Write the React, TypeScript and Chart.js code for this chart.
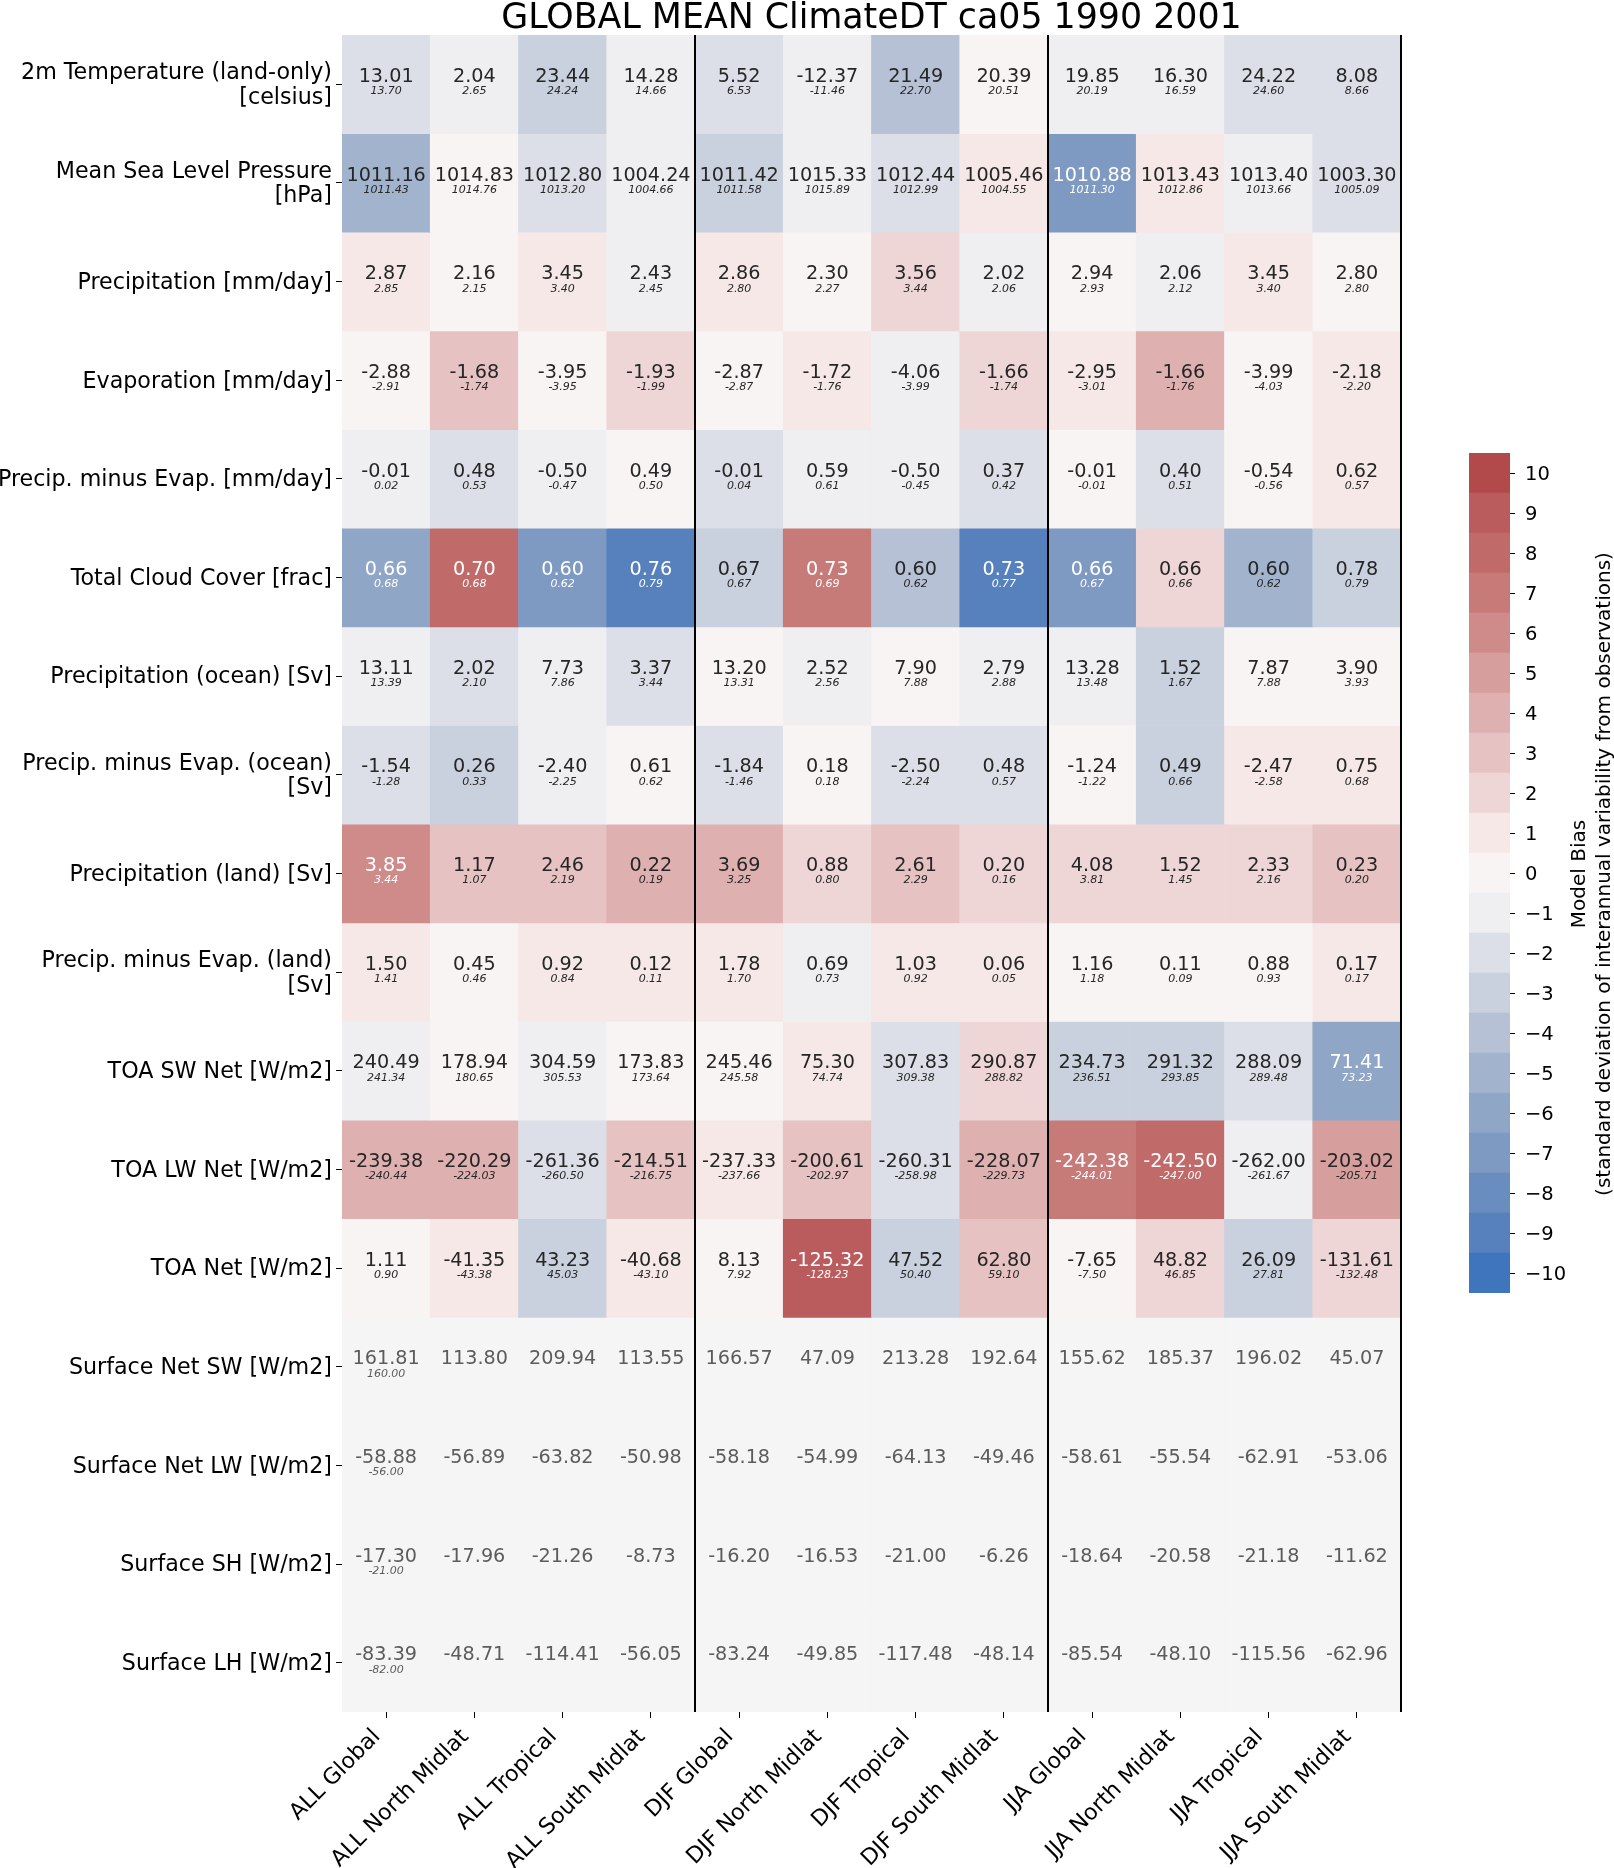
import React, { useEffect, useRef } from 'react';
import { Chart, registerables } from 'chart.js';

Chart.register(...registerables);

const FONT = "'DejaVu Sans', sans-serif";

// ---------- texts ----------
const chartTitle = 'GLOBAL MEAN ClimateDT ca05 1990 2001';
const cbarTitle = 'Model Bias';
const cbarSubtitle = '(standard deviation of interannual variability from observations)';

const colLabels = [
  'ALL Global', 'ALL North Midlat', 'ALL Tropical', 'ALL South Midlat',
  'DJF Global', 'DJF North Midlat', 'DJF Tropical', 'DJF South Midlat',
  'JJA Global', 'JJA North Midlat', 'JJA Tropical', 'JJA South Midlat',
];

const rowLabels: (string | string[])[] = [
  ['2m Temperature (land-only)', '[celsius]'],
  ['Mean Sea Level Pressure', '[hPa]'],
  'Precipitation [mm/day]',
  'Evaporation [mm/day]',
  'Precip. minus Evap. [mm/day]',
  'Total Cloud Cover [frac]',
  'Precipitation (ocean) [Sv]',
  ['Precip. minus Evap. (ocean)', '[Sv]'],
  'Precipitation (land) [Sv]',
  ['Precip. minus Evap. (land)', '[Sv]'],
  'TOA SW Net [W/m2]',
  'TOA LW Net [W/m2]',
  'TOA Net [W/m2]',
  'Surface Net SW [W/m2]',
  'Surface Net LW [W/m2]',
  'Surface SH [W/m2]',
  'Surface LH [W/m2]',
];

// ---------- values (model / observation / bias in std units) ----------
const t2mModel = [13.01, 2.04, 23.44, 14.28, 5.52, -12.37, 21.49, 20.39, 19.85, 16.30, 24.22, 8.08];
const t2mObs = [13.70, 2.65, 24.24, 14.66, 6.53, -11.46, 22.70, 20.51, 20.19, 16.59, 24.60, 8.66];
const t2mBias = [-2, -1, -3, -1, -2, -1, -4, 0, -1, -1, -2, -2];

const mslpModel = [1011.16, 1014.83, 1012.80, 1004.24, 1011.42, 1015.33, 1012.44, 1005.46, 1010.88, 1013.43, 1013.40, 1003.30];
const mslpObs = [1011.43, 1014.76, 1013.20, 1004.66, 1011.58, 1015.89, 1012.99, 1004.55, 1011.30, 1012.86, 1013.66, 1005.09];
const mslpBias = [-5, 0, -2, -1, -3, -1, -2, 1, -7, 1, -1, -2];

const precipModel = [2.87, 2.16, 3.45, 2.43, 2.86, 2.30, 3.56, 2.02, 2.94, 2.06, 3.45, 2.80];
const precipObs = [2.85, 2.15, 3.40, 2.45, 2.80, 2.27, 3.44, 2.06, 2.93, 2.12, 3.40, 2.80];
const precipBias = [1, 0, 1, -1, 1, 0, 2, -1, 0, -1, 1, 0];

const evapModel = [-2.88, -1.68, -3.95, -1.93, -2.87, -1.72, -4.06, -1.66, -2.95, -1.66, -3.99, -2.18];
const evapObs = [-2.91, -1.74, -3.95, -1.99, -2.87, -1.76, -3.99, -1.74, -3.01, -1.76, -4.03, -2.20];
const evapBias = [0, 3, 0, 2, 0, 1, -1, 2, 1, 4, 0, 1];

const pmeModel = [-0.01, 0.48, -0.50, 0.49, -0.01, 0.59, -0.50, 0.37, -0.01, 0.40, -0.54, 0.62];
const pmeObs = [0.02, 0.53, -0.47, 0.50, 0.04, 0.61, -0.45, 0.42, -0.01, 0.51, -0.56, 0.57];
const pmeBias = [-1, -2, -1, 0, -2, -1, -1, -2, 0, -2, 0, 1];

const tccModel = [0.66, 0.70, 0.60, 0.76, 0.67, 0.73, 0.60, 0.73, 0.66, 0.66, 0.60, 0.78];
const tccObs = [0.68, 0.68, 0.62, 0.79, 0.67, 0.69, 0.62, 0.77, 0.67, 0.66, 0.62, 0.79];
const tccBias = [-6, 8, -7, -9, -3, 7, -4, -9, -7, 2, -5, -3];

const precipOceanModel = [13.11, 2.02, 7.73, 3.37, 13.20, 2.52, 7.90, 2.79, 13.28, 1.52, 7.87, 3.90];
const precipOceanObs = [13.39, 2.10, 7.86, 3.44, 13.31, 2.56, 7.88, 2.88, 13.48, 1.67, 7.88, 3.93];
const precipOceanBias = [-1, -2, -1, -2, 0, -1, 0, -1, -1, -3, 0, 0];

const pmeOceanModel = [-1.54, 0.26, -2.40, 0.61, -1.84, 0.18, -2.50, 0.48, -1.24, 0.49, -2.47, 0.75];
const pmeOceanObs = [-1.28, 0.33, -2.25, 0.62, -1.46, 0.18, -2.24, 0.57, -1.22, 0.66, -2.58, 0.68];
const pmeOceanBias = [-2, -3, -1, 0, -2, 0, -2, -2, 0, -3, 1, 1];

const precipLandModel = [3.85, 1.17, 2.46, 0.22, 3.69, 0.88, 2.61, 0.20, 4.08, 1.52, 2.33, 0.23];
const precipLandObs = [3.44, 1.07, 2.19, 0.19, 3.25, 0.80, 2.29, 0.16, 3.81, 1.45, 2.16, 0.20];
const precipLandBias = [6, 3, 3, 4, 4, 2, 3, 2, 2, 2, 2, 3];

const pmeLandModel = [1.50, 0.45, 0.92, 0.12, 1.78, 0.69, 1.03, 0.06, 1.16, 0.11, 0.88, 0.17];
const pmeLandObs = [1.41, 0.46, 0.84, 0.11, 1.70, 0.73, 0.92, 0.05, 1.18, 0.09, 0.93, 0.17];
const pmeLandBias = [1, 0, 1, 1, 1, -1, 1, 1, 0, 0, 0, 1];

const toaSwModel = [240.49, 178.94, 304.59, 173.83, 245.46, 75.30, 307.83, 290.87, 234.73, 291.32, 288.09, 71.41];
const toaSwObs = [241.34, 180.65, 305.53, 173.64, 245.58, 74.74, 309.38, 288.82, 236.51, 293.85, 289.48, 73.23];
const toaSwBias = [-1, 0, -1, 0, 0, 1, -2, 2, -3, -3, -2, -6];

const toaLwModel = [-239.38, -220.29, -261.36, -214.51, -237.33, -200.61, -260.31, -228.07, -242.38, -242.50, -262.00, -203.02];
const toaLwObs = [-240.44, -224.03, -260.50, -216.75, -237.66, -202.97, -258.98, -229.73, -244.01, -247.00, -261.67, -205.71];
const toaLwBias = [4, 4, -2, 3, 1, 3, -2, 4, 7, 8, -1, 5];

const toaNetModel = [1.11, -41.35, 43.23, -40.68, 8.13, -125.32, 47.52, 62.80, -7.65, 48.82, 26.09, -131.61];
const toaNetObs = [0.90, -43.38, 45.03, -43.10, 7.92, -128.23, 50.40, 59.10, -7.50, 46.85, 27.81, -132.48];
const toaNetBias = [0, 1, -3, 1, 0, 9, -3, 3, 0, 2, -3, 2];

const sfcSwModel = [161.81, 113.80, 209.94, 113.55, 166.57, 47.09, 213.28, 192.64, 155.62, 185.37, 196.02, 45.07];
const sfcSwObs = [160.00, null, null, null, null, null, null, null, null, null, null, null];
const sfcSwBias = [null, null, null, null, null, null, null, null, null, null, null, null];

const sfcLwModel = [-58.88, -56.89, -63.82, -50.98, -58.18, -54.99, -64.13, -49.46, -58.61, -55.54, -62.91, -53.06];
const sfcLwObs = [-56.00, null, null, null, null, null, null, null, null, null, null, null];
const sfcLwBias = [null, null, null, null, null, null, null, null, null, null, null, null];

const sfcShModel = [-17.30, -17.96, -21.26, -8.73, -16.20, -16.53, -21.00, -6.26, -18.64, -20.58, -21.18, -11.62];
const sfcShObs = [-21.00, null, null, null, null, null, null, null, null, null, null, null];
const sfcShBias = [null, null, null, null, null, null, null, null, null, null, null, null];

const sfcLhModel = [-83.39, -48.71, -114.41, -56.05, -83.24, -49.85, -117.48, -48.14, -85.54, -48.10, -115.56, -62.96];
const sfcLhObs = [-82.00, null, null, null, null, null, null, null, null, null, null, null];
const sfcLhBias = [null, null, null, null, null, null, null, null, null, null, null, null];

const modelRows = [t2mModel, mslpModel, precipModel, evapModel, pmeModel, tccModel, precipOceanModel, pmeOceanModel,
  precipLandModel, pmeLandModel, toaSwModel, toaLwModel, toaNetModel, sfcSwModel, sfcLwModel, sfcShModel, sfcLhModel];
const obsRows: (number | null)[][] = [t2mObs, mslpObs, precipObs, evapObs, pmeObs, tccObs, precipOceanObs, pmeOceanObs,
  precipLandObs, pmeLandObs, toaSwObs, toaLwObs, toaNetObs, sfcSwObs, sfcLwObs, sfcShObs, sfcLhObs];
const biasRows: (number | null)[][] = [t2mBias, mslpBias, precipBias, evapBias, pmeBias, tccBias, precipOceanBias, pmeOceanBias,
  precipLandBias, pmeLandBias, toaSwBias, toaLwBias, toaNetBias, sfcSwBias, sfcLwBias, sfcShBias, sfcLhBias];

// ---------- colour bar ----------
const cbarTicks = [-10, -9, -8, -7, -6, -5, -4, -3, -2, -1, 0, 1, 2, 3, 4, 5, 6, 7, 8, 9, 10];
const biasColors = [
  '#3e75bd', '#5781bd', '#6a8dbf', '#7e99c2', '#8fa6c7', '#a2b4cd', '#b6c1d5', '#c9d0de', '#dcdfe7', '#efeff2',
  '#f9f4f4',
  '#f6e8e7', '#efd6d6', '#e6c3c2', '#deb0b0', '#d69e9c', '#ce8b8a', '#c77b79', '#c16a6a', '#ba5c5d', '#b24a4b',
];
const NAN_COLOR = '#f5f5f5';
const DARK_TEXT = '#262626';
const NAN_TEXT = '#5c5c5c';

function colorFor(b: number | null) {
  if (b === null) return NAN_COLOR;
  return biasColors[b + 10];
}

const cellTextPlugin = {
  id: 'cellText',
  afterDatasetsDraw(chart: any) {
    const { ctx, chartArea } = chart;
    const xs = chart.scales.x;
    const ys = chart.scales.y;
    ctx.save();
    ctx.textAlign = 'center';
    ctx.textBaseline = 'alphabetic';
    for (let r = 0; r < modelRows.length; r++) {
      for (let c = 0; c < colLabels.length; c++) {
        const cx = xs.getPixelForValue(c);
        const cy = ys.getPixelForValue(r + 0.5);
        const b = biasRows[r][c];
        const col = b === null ? NAN_TEXT : Math.abs(b) >= 6 ? '#ffffff' : DARK_TEXT;
        ctx.fillStyle = col;
        ctx.font = `19.2px ${FONT}`;
        ctx.fillText(modelRows[r][c].toFixed(2), cx, cy - 2.4);
        const o = obsRows[r][c];
        if (o !== null && o !== undefined) {
          ctx.font = `italic 11px ${FONT}`;
          ctx.fillText(o.toFixed(2), cx, cy + 9.9);
        }
      }
    }
    ctx.strokeStyle = '#000000';
    ctx.lineWidth = 2;
    [3.5, 7.5, 11.5].forEach((v) => {
      const px = xs.getPixelForValue(v);
      ctx.beginPath();
      ctx.moveTo(px, chartArea.top);
      ctx.lineTo(px, chartArea.bottom);
      ctx.stroke();
    });
    ctx.restore();
  },
  afterDraw(chart: any) {
    const { ctx, chartArea } = chart;
    ctx.save();
    ctx.fillStyle = '#000000';
    ctx.font = `34.8px ${FONT}`;
    ctx.textAlign = 'center';
    ctx.textBaseline = 'alphabetic';
    ctx.fillText(chartTitle, (chartArea.left + chartArea.right) / 2, 27.5);
    ctx.restore();
  },
};

const cbarTitlePlugin = {
  id: 'cbarTitle',
  afterDraw(chart: any) {
    const { ctx, chartArea } = chart;
    const cy = (chartArea.top + chartArea.bottom) / 2 + 1;
    ctx.save();
    ctx.fillStyle = '#000000';
    ctx.font = `20px ${FONT}`;
    ctx.textAlign = 'center';
    ctx.textBaseline = 'middle';
    [[cbarTitle, 140], [cbarSubtitle, 165]].forEach(([t, x]) => {
      ctx.save();
      ctx.translate(x as number, cy);
      ctx.rotate(-Math.PI / 2);
      ctx.fillText(t as string, 0, 0);
      ctx.restore();
    });
    ctx.restore();
  },
};

function buildMainConfig(): any {
  const datasets = rowLabels.map((lbl, r) => ({
    label: Array.isArray(lbl) ? lbl.join(' ') : lbl,
    data: colLabels.map(() => [r, r + 1]),
    backgroundColor: biasRows[r].map(colorFor),
    borderWidth: 0,
    grouped: false,
    barPercentage: 1,
    categoryPercentage: 1,
  }));
  return {
    type: 'bar',
    data: { labels: colLabels, datasets },
    plugins: [cellTextPlugin],
    options: {
      responsive: true,
      maintainAspectRatio: false,
      animation: false,
      events: [],
      layout: { padding: { top: 35, left: 0, right: 213, bottom: 0 } },
      plugins: { legend: { display: false }, tooltip: { enabled: false }, title: { display: false } },
      scales: {
        x: {
          type: 'category',
          offset: true,
          grid: { display: true, drawOnChartArea: false, drawTicks: true, tickLength: 6, tickWidth: 1, tickColor: '#000', offset: false },
          border: { display: false },
          ticks: {
            autoSkip: false, maxRotation: 45, minRotation: 45, padding: 6, labelOffset: -9, color: '#000',
            font: { family: FONT, size: 22.2 },
          },
          afterFit: (s: any) => { s.height = 156; },
        },
        y: {
          type: 'linear',
          min: 0,
          max: 17,
          reverse: true,
          afterBuildTicks: (s: any) => { s.ticks = rowLabels.map((_, i) => ({ value: i + 0.5 })); },
          grid: { display: true, drawOnChartArea: false, drawTicks: true, tickLength: 6, tickWidth: 1, tickColor: '#000' },
          border: { display: false },
          ticks: {
            autoSkip: false, padding: 4, labelOffset: 1.5, color: '#000',
            font: { family: FONT, size: 22.2, lineHeight: 1.09 },
            callback: (_v: any, i: number) => rowLabels[i],
          },
          afterFit: (s: any) => { s.width = 342; },
        },
      },
    },
  };
}

function buildCbarConfig(): any {
  const datasets = cbarTicks.map((lv, i) => ({
    label: String(lv),
    data: [[lv - 0.5, lv + 0.5]],
    backgroundColor: biasColors[i],
    borderWidth: 0,
    grouped: false,
    barPercentage: 1,
    categoryPercentage: 1,
  }));
  return {
    type: 'bar',
    data: { labels: ['bias'], datasets },
    plugins: [cbarTitlePlugin],
    options: {
      responsive: true,
      maintainAspectRatio: false,
      animation: false,
      events: [],
      layout: { padding: { top: 453, left: 29, right: 0, bottom: 575 } },
      plugins: { legend: { display: false }, tooltip: { enabled: false } },
      scales: {
        x: { type: 'category', display: false },
        y: {
          type: 'linear',
          position: 'right',
          min: -10.5,
          max: 10.5,
          afterBuildTicks: (s: any) => { s.ticks = cbarTicks.map((v) => ({ value: v })); },
          grid: { display: true, drawOnChartArea: false, drawTicks: true, tickLength: 5, tickWidth: 1, tickColor: '#000' },
          border: { display: false },
          ticks: {
            autoSkip: false, padding: 10, labelOffset: 2, color: '#000',
            font: { family: FONT, size: 19.5 },
            callback: (v: any) => (v < 0 ? '\u2212' + Math.abs(v) : String(v)),
          },
          afterFit: (s: any) => { s.width = 104; },
        },
      },
    },
  };
}

export default function App() {
  const mainRef = useRef<HTMLCanvasElement>(null);
  const cbRef = useRef<HTMLCanvasElement>(null);
  useEffect(() => {
    const main = new Chart(mainRef.current as HTMLCanvasElement, buildMainConfig());
    const cb = new Chart(cbRef.current as HTMLCanvasElement, buildCbarConfig());
    return () => {
      main.destroy();
      cb.destroy();
    };
  }, []);
  return (
    <div style={{ position: 'absolute', left: 0, top: 0, width: 1614, height: 1868, background: '#ffffff', overflow: 'hidden' }}>
      <div style={{ position: 'absolute', left: 0, top: 0, width: 1614, height: 1868 }}>
        <canvas ref={mainRef} />
      </div>
      <div style={{ position: 'absolute', left: 1440, top: 0, width: 174, height: 1868 }}>
        <canvas ref={cbRef} />
      </div>
    </div>
  );
}
